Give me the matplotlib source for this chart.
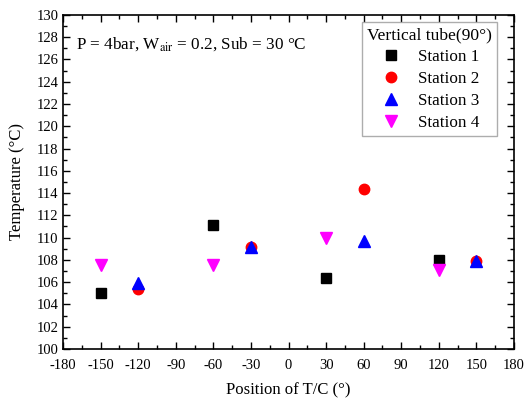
import matplotlib.pyplot as plt
from matplotlib.ticker import MultipleLocator

plt.rcParams['font.family'] = ['Liberation Serif', 'DejaVu Serif']
plt.rcParams['mathtext.fontset'] = 'stix'
plt.rcParams['axes.unicode_minus'] = False

# Thermocouple positions (degrees) and measured temperatures (°C)
pos_s1 = [-150, -60, 30, 120]
temp_s1 = [105.0, 111.1, 106.4, 108.0]
pos_s2 = [-120, -30, 60, 150]
temp_s2 = [105.4, 109.2, 114.4, 107.9]
pos_s3 = [-120, -30, 60, 150]
temp_s3 = [105.9, 109.2, 109.7, 107.9]
pos_s4 = [-150, -60, 30, 120]
temp_s4 = [107.5, 107.5, 110.0, 107.1]

fig = plt.figure(figsize=(5.26, 4.03), dpi=100)
ax = fig.add_axes([0.12, 0.134, 0.857, 0.829])

ax.plot(pos_s1, temp_s1, 's', color='black', ms=7, label='Station 1', ls='none')
ax.plot(pos_s2, temp_s2, 'o', color='red', ms=7.5, label='Station 2', ls='none')
ax.plot(pos_s3, temp_s3, '^', color='blue', ms=8, label='Station 3', ls='none')
ax.plot(pos_s4, temp_s4, 'v', color='magenta', ms=8, label='Station 4', ls='none')

ax.set_xlim(-180, 180)
ax.set_ylim(100, 130)
ax.xaxis.set_major_locator(MultipleLocator(30))
ax.xaxis.set_minor_locator(MultipleLocator(15))
ax.yaxis.set_major_locator(MultipleLocator(2))
ax.yaxis.set_minor_locator(MultipleLocator(1))
ax.tick_params(which='both', direction='in', top=True, right=True, labelsize=10.5)
ax.tick_params(axis='x', pad=7)
ax.tick_params(which='major', length=5, width=1)
ax.tick_params(which='minor', length=3, width=1)
for sp in ax.spines.values():
    sp.set_linewidth(1.2)

ax.set_xlabel('Position of T/C (°)', fontsize=12, labelpad=8)
ax.set_ylabel('Temperature (°C)', fontsize=12, labelpad=8)

ax.text(-170, 127.4, r'P = 4bar, W$_{\rm air}$ = 0.2, Sub = 30 °C', fontsize=12.3, va='center')

leg = ax.legend(title='Vertical tube(90°)', loc='upper right', fontsize=12.3, title_fontsize=12.6,
                frameon=True, fancybox=False, borderpad=0.3, labelspacing=0.35,
                handlelength=1.4, handletextpad=0.9, borderaxespad=0,
                bbox_to_anchor=(0.962, 0.979))
leg.get_frame().set_edgecolor('#999999')
leg.get_frame().set_linewidth(1)

fig.savefig('out.png', dpi=100)
